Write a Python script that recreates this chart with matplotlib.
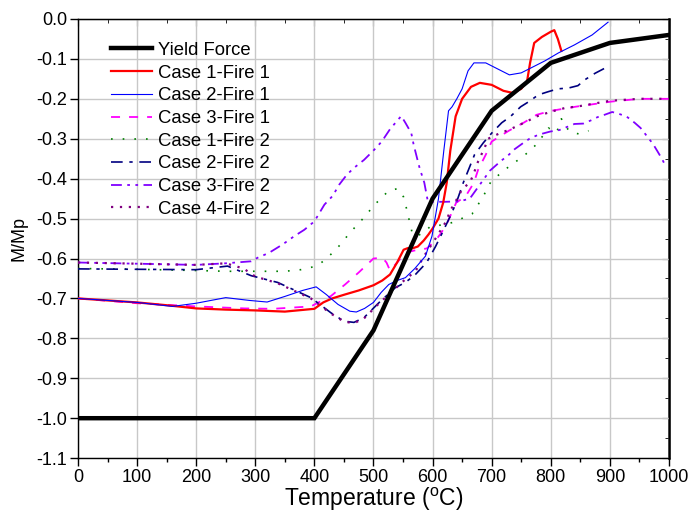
import matplotlib
matplotlib.use("Agg")
import matplotlib.pyplot as plt
from matplotlib.ticker import MultipleLocator, NullLocator

# ---- data ---------------------------------------------------------------
yield_T = [0, 400, 500, 600, 700, 800, 900, 1000]
yield_M = [-1.0, -1.0, -0.78, -0.45, -0.23, -0.11, -0.06, -0.04]

c1f1_T = [0, 50, 100, 150, 200, 250, 300, 350, 400, 415, 430, 452, 475, 500, 515, 528, 540, 551,
          558, 565, 575, 585, 593, 600, 610, 618, 624, 630, 639, 650, 665, 680, 700, 720, 735,
          750, 760, 765, 772, 785, 800, 806, 812, 818]
c1f1_M = [-0.70, -0.705, -0.71, -0.717, -0.725, -0.728, -0.73, -0.733, -0.726, -0.71, -0.70,
          -0.69, -0.68, -0.667, -0.655, -0.64, -0.61, -0.578, -0.574, -0.575, -0.57, -0.555,
          -0.54, -0.525, -0.50, -0.46, -0.41, -0.33, -0.244, -0.20, -0.17, -0.16, -0.165, -0.18,
          -0.185, -0.175, -0.155, -0.11, -0.06, -0.045, -0.032, -0.028, -0.05, -0.08]

c2f1_T = [0, 100, 160, 200, 250, 290, 320, 350, 380, 403, 420, 440, 460, 471, 485, 500, 513, 526,
          540, 554, 570, 588, 599, 610, 619, 627, 633, 641, 650, 660, 670, 690, 710, 730, 750,
          770, 790, 813, 840, 870, 897]
c2f1_M = [-0.70, -0.71, -0.72, -0.712, -0.698, -0.705, -0.709, -0.695, -0.68, -0.671, -0.69,
          -0.715, -0.732, -0.734, -0.725, -0.71, -0.685, -0.665, -0.655, -0.648, -0.625, -0.594,
          -0.544, -0.45, -0.33, -0.23, -0.22, -0.20, -0.175, -0.13, -0.11, -0.11, -0.125, -0.14,
          -0.135, -0.12, -0.105, -0.085, -0.065, -0.04, -0.008]

c3f1_T = [0, 100, 200, 282, 330, 394, 428, 452, 475, 500, 515, 522, 528, 540, 555, 575, 590, 605,
          615, 625, 640, 650, 656, 670, 677, 690, 700, 729, 754, 776, 801, 841, 902, 950, 1000]
c3f1_M = [-0.70, -0.712, -0.72, -0.725, -0.726, -0.72, -0.694, -0.665, -0.635, -0.60, -0.598,
          -0.61, -0.63, -0.61, -0.585, -0.578, -0.575, -0.555, -0.535, -0.51, -0.46, -0.45,
          -0.444, -0.41, -0.378, -0.34, -0.307, -0.28, -0.26, -0.24, -0.23, -0.22, -0.207,
          -0.20, -0.20]

c1f2_T = [0, 100, 200, 250, 300, 350, 377, 395, 408, 422, 436, 447, 459, 473, 486, 499, 512, 526,
          541, 551, 555, 558, 562, 565, 572, 585, 596, 620, 641, 655, 667, 677, 686, 694, 699,
          714, 729, 744, 760, 773, 784, 796, 810, 818, 824, 834, 848, 864]
c1f2_M = [-0.625, -0.627, -0.63, -0.632, -0.632, -0.632, -0.628, -0.622, -0.615, -0.598, -0.578,
          -0.56, -0.537, -0.515, -0.494, -0.47, -0.45, -0.43, -0.425, -0.446, -0.469, -0.49,
          -0.512, -0.533, -0.545, -0.535, -0.52, -0.515, -0.507, -0.495, -0.488, -0.465, -0.444,
          -0.42, -0.407, -0.388, -0.37, -0.354, -0.336, -0.318, -0.298, -0.273, -0.284, -0.25,
          -0.268, -0.284, -0.288, -0.28]

c2f2_T = [0, 100, 200, 253, 293, 338, 394, 428, 450, 467, 484, 509, 537, 554, 571, 590, 605, 613,
          630, 641, 652, 661, 671, 686, 700, 717, 732, 749, 763, 779, 796, 812, 830, 846, 858,
          875, 897]
c2f2_M = [-0.626, -0.627, -0.628, -0.619, -0.643, -0.66, -0.698, -0.736, -0.757, -0.76, -0.748,
          -0.711, -0.673, -0.66, -0.64, -0.61, -0.57, -0.546, -0.494, -0.457, -0.41, -0.377,
          -0.34, -0.31, -0.286, -0.26, -0.244, -0.22, -0.207, -0.19, -0.182, -0.175, -0.173,
          -0.167, -0.152, -0.136, -0.119]

c3f2_T = [0, 100, 200, 250, 293, 304, 323, 346, 366, 383, 400, 417, 431, 442, 455, 467, 484, 501,
          514, 528, 547, 554, 564, 568, 574, 578, 586, 592, 599, 620, 645, 663, 680, 697, 717,
          727, 739, 754, 764, 779, 799, 815, 840, 855, 868, 879, 891, 904, 914, 928, 942, 952,
          963, 973, 980, 988, 995]
c3f2_M = [-0.61, -0.613, -0.616, -0.612, -0.607, -0.598, -0.586, -0.565, -0.544, -0.528, -0.507,
          -0.465, -0.443, -0.415, -0.39, -0.373, -0.353, -0.328, -0.307, -0.276, -0.243, -0.26,
          -0.286, -0.315, -0.35, -0.373, -0.41, -0.457, -0.458, -0.458, -0.457, -0.45, -0.415,
          -0.38, -0.354, -0.343, -0.326, -0.31, -0.30, -0.29, -0.282, -0.278, -0.263, -0.262,
          -0.254, -0.246, -0.24, -0.233, -0.237, -0.244, -0.26, -0.273, -0.294, -0.313, -0.33,
          -0.35, -0.37]

c4f2_T = [0, 100, 200, 250, 280, 300, 338, 394, 428, 450, 467, 484, 509, 537, 554, 571, 586, 605,
          623, 630, 644, 650, 663, 669, 677, 688, 694, 714, 729, 759, 776, 801, 824, 846, 900,
          950, 1000]
c4f2_M = [-0.61, -0.613, -0.616, -0.612, -0.625, -0.645, -0.662, -0.70, -0.738, -0.758, -0.762,
          -0.75, -0.713, -0.675, -0.652, -0.632, -0.593, -0.55, -0.507, -0.48, -0.444, -0.426,
          -0.41, -0.39, -0.357, -0.323, -0.30, -0.286, -0.278, -0.257, -0.244, -0.232, -0.223,
          -0.219, -0.205, -0.20, -0.20]

x_ticks = [0, 100, 200, 300, 400, 500, 600, 700, 800, 900, 1000]
y_ticks = [0.0, -0.1, -0.2, -0.3, -0.4, -0.5, -0.6, -0.7, -0.8, -0.9, -1.0, -1.1]

plt.rcParams["font.family"] = ["Liberation Sans", "DejaVu Sans"]

fig = plt.figure(figsize=(6.99, 5.20), dpi=100)
ax = fig.add_axes([0.1116, 0.119, 0.8454, 0.8445])

ax.plot(yield_T, yield_M, color="black", lw=3.2, label="Yield Force", solid_joinstyle="miter", zorder=5)
ax.plot(c1f1_T, c1f1_M, color="#ff0000", lw=1.6, label="Case 1-Fire 1", zorder=4)
ax.plot(c2f1_T, c2f1_M, color="#0000ff", lw=0.8, label="Case 2-Fire 1", zorder=4)
ax.plot(c3f1_T, c3f1_M, color="#ff00ff", lw=1.3, ls=(0, (5, 5)), label="Case 3-Fire 1", zorder=3)
ax.plot(c1f2_T, c1f2_M, color="#008000", lw=1.2, ls=(0, (1, 6)), label="Case 1-Fire 2", zorder=3)
ax.plot(c2f2_T, c2f2_M, color="#000080", lw=1.2, ls=(0, (7, 4, 2, 4)), label="Case 2-Fire 2", zorder=3)
ax.plot(c3f2_T, c3f2_M, color="#8000ff", lw=1.3, ls=(0, (6, 3, 1.5, 3, 1.5, 3)), label="Case 3-Fire 2", zorder=3)
ax.plot(c4f2_T, c4f2_M, color="#800080", lw=1.6, ls=(0, (1, 3)), label="Case 4-Fire 2", zorder=3)

ax.set_xlim(0, 1000)
ax.set_ylim(-1.1, 0.0)
ax.set_xticks(x_ticks)
ax.set_yticks(y_ticks)
ax.set_xticklabels([str(v) for v in x_ticks], fontsize=13)
ax.set_yticklabels([f"{v:.1f}" for v in y_ticks], fontsize=13)
ax.xaxis.set_minor_locator(MultipleLocator(50))
ax.yaxis.set_minor_locator(NullLocator())
ax.grid(True, which="major", color="#c8c8c8", lw=1.0)
ax.set_axisbelow(True)

ax.tick_params(which="both", direction="out", top=False, right=False, color="black", width=1)
ax.tick_params(which="major", length=6, pad=2)
ax.tick_params(which="minor", length=3)
# inward ticks on the top and right spines
tx = ax.secondary_xaxis("top")
tx.set_xticks(x_ticks)
tx.xaxis.set_minor_locator(MultipleLocator(50))
tx.tick_params(which="both", direction="in", labeltop=False)
tx.tick_params(which="major", length=5)
tx.tick_params(which="minor", length=3)
ty = ax.secondary_yaxis("right")
ty.set_yticks(y_ticks)
ty.yaxis.set_minor_locator(MultipleLocator(0.05))
ty.tick_params(which="both", direction="in", labelright=False)
ty.tick_params(which="major", length=5)
ty.tick_params(which="minor", length=3)
ty.spines["right"].set_linewidth(1.8)
for s in ax.spines.values():
    s.set_linewidth(1.0)

ax.set_xlabel("Temperature ($^{\\mathregular{o}}$C)", fontsize=16.5, labelpad=0)
ax.set_ylabel("M/Mp", fontsize=13, labelpad=6)

leg = ax.legend(loc="upper left", bbox_to_anchor=(0.055, 0.948), frameon=False, fontsize=13.3,
                handlelength=2.25, handletextpad=0.33, labelspacing=0.31, borderaxespad=0,
                borderpad=0)

fig.savefig("out.png", dpi=100)
